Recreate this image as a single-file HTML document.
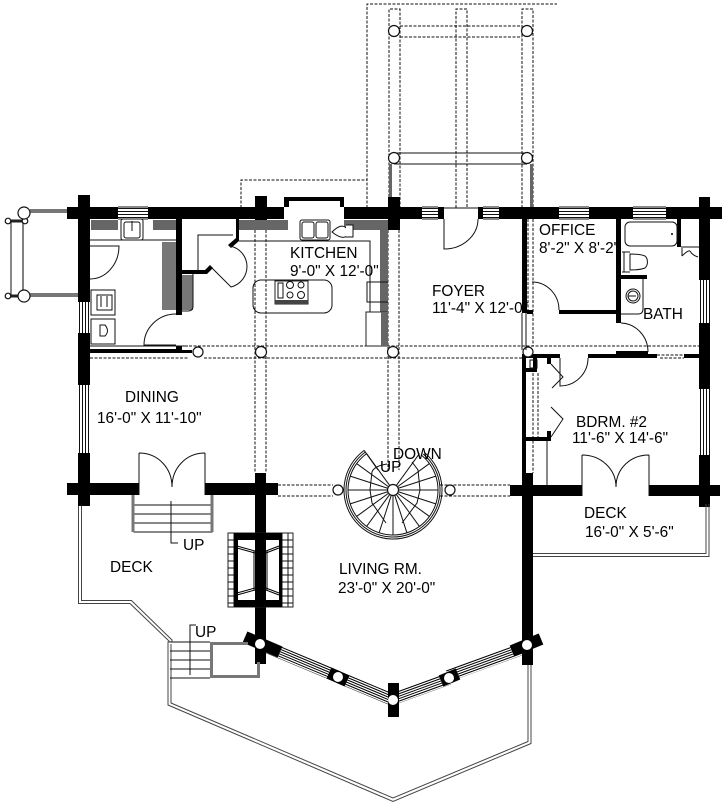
<!DOCTYPE html>
<html><head><meta charset="utf-8"><style>
html,body{margin:0;padding:0;background:#fff}
svg{display:block}
text{font-family:"Liberation Sans",sans-serif;font-size:15.4px;fill:#000}
.b{fill:#000;stroke:none}
.bl{fill:none;stroke:#000}
.t{fill:none;stroke:#111;stroke-width:1}
.d{fill:none;stroke:#111;stroke-width:1;stroke-dasharray:3 1.5}
.g{fill:none;stroke:#666;stroke-width:1}
.gf{fill:#666;stroke:none}
.h{fill:none;stroke:#111;stroke-dasharray:1 2}
.a{fill:none;stroke:#000;stroke-dasharray:1 1.3}
.c{fill:#fff;stroke:#111;stroke-width:1.2}
</style></head><body>
<svg width="725" height="806" viewBox="0 0 725 806" xmlns="http://www.w3.org/2000/svg">
<rect width="725" height="806" fill="#fff"/>

<!-- top pergola -->
<path class="d" d="M367 208V4H557M241 208V180H367"/>
<path class="d" d="M389 197V9H400V208M456 208V9H467V208M522 208V9H533V208"/>
<path class="d" d="M400 26H522M400 37H522"/>
<path class="t" d="M394 153H527M394 164H527" stroke="#555"/>
<circle class="c" cx="394" cy="31" r="5.5"/><circle class="c" cx="527" cy="31" r="5.5"/>
<circle class="c" cx="394" cy="158" r="5.5"/><circle class="c" cx="527" cy="158" r="5.5"/>
<rect class="gf" x="389" y="164" width="3" height="33"/><rect class="gf" x="530" y="164" width="3" height="44"/>

<!-- west balcony -->
<path d="M30 211H68M30 295H78" fill="none" stroke="#777" stroke-width="4"/>
<path class="t" d="M11 221V296H24M24 221H11" stroke="#666"/><path fill="none" stroke="#555" stroke-width="1.5" d="M23 221V296"/>
<path fill="none" stroke="#222" stroke-width="3" d="M10 221H24M10 296H20"/>
<circle class="c" cx="8" cy="221" r="2.8"/><circle class="c" cx="25" cy="221" r="2.8"/><circle class="c" cx="8" cy="296" r="2.8"/>
<circle class="c" cx="24" cy="213" r="6"/><circle class="c" cx="24" cy="296" r="6"/>

<!-- beams -->
<path class="d" d="M255 230V473M266 230V473M388 230V470M399 230V470M528 219V310M533 219V346"/>
<path class="d" d="M90 346H699M90 358H188M204 358H522M660 358H684"/>
<path class="d" d="M278 485H333M278 496H333M440 485H510M440 496H510"/>
<path class="d" d="M533 373V473M538 373V437"/>

<!-- main walls -->
<g class="b">
<rect x="67" y="207" width="51" height="12"/>
<rect x="148" y="207" width="136" height="12"/>
<rect x="344" y="207" width="78" height="12"/>
<rect x="438" y="207" width="6" height="12"/>
<rect x="478" y="207" width="5" height="12"/>
<rect x="499" y="207" width="60" height="12"/>
<rect x="589" y="207" width="44" height="12"/>
<rect x="666" y="207" width="56" height="12"/>
<rect x="78" y="195" width="12" height="107"/>
<rect x="78" y="333" width="12" height="52"/>
<rect x="78" y="453" width="12" height="53"/>
<rect x="255" y="196" width="12" height="34"/>
<rect x="388" y="197" width="12" height="33"/>
<rect x="699" y="197" width="11" height="83"/>
<rect x="699" y="323" width="11" height="66"/>
<rect x="699" y="455" width="11" height="52"/>
<rect x="67" y="483" width="72" height="12"/>
<rect x="205" y="483" width="73" height="12"/>
<rect x="510" y="485" width="72" height="11"/>
<rect x="649" y="485" width="71" height="11"/>
<rect x="255" y="473" width="11" height="60"/>
<rect x="255" y="607" width="11" height="57"/>
<rect x="522" y="473" width="11" height="192"/>
<!-- alcove -->
<path d="M284 207V197H344V207H340V201H289V207Z"/>
<!-- interior -->
<rect x="176" y="219" width="6" height="96"/>
<rect x="182" y="270" width="23" height="4"/>
<path d="M205 270L210 265L213 268L207 274H205Z"/>
<path d="M236 219H239V241L231 248L228 245L236 238Z"/>
<rect x="90" y="349" width="90" height="4"/>
<rect x="176" y="346" width="6" height="4"/>
<rect x="180" y="350" width="12" height="3"/>
<rect x="522" y="219" width="5" height="94"/>
<rect x="527" y="310" width="6" height="4"/>
<rect x="559" y="310" width="62" height="4"/>
<rect x="616" y="219" width="5" height="104"/>
<rect x="621" y="275" width="26" height="4"/>
<rect x="677" y="219" width="4" height="28"/>
<rect x="588" y="354" width="69" height="4"/>
<rect x="616" y="351" width="32" height="3"/>
<rect x="684" y="354" width="15" height="4"/>
<rect x="522" y="354" width="38" height="4"/>
<rect x="522" y="358" width="4" height="115"/>
<rect x="533" y="358" width="4" height="14"/>
<rect x="526" y="368" width="11" height="4"/>
<rect x="547" y="358" width="4" height="6"/>
<rect x="547" y="431" width="4" height="10"/>
<rect x="526" y="437" width="25" height="4"/>
<rect x="388" y="683" width="11" height="34"/>
</g>
<!-- windows -->
<g class="h">
<path d="M133 208V219" stroke-width="30"/>
<path d="M430 208V219" stroke-width="16"/>
<path d="M491 208V219" stroke-width="16"/>
<path d="M574 208V219" stroke-width="30"/>
<path d="M649.5 208V219" stroke-width="33"/>
<path d="M79 317.5H90" stroke-width="31"/>
<path d="M79 419H90" stroke-width="68"/>
<path d="M700 301.5H710" stroke-width="43"/>
<path d="M700 422H710" stroke-width="66"/>
</g>
<path class="t" d="M118 207H148M118 219H148M422 207H438M422 219H438M483 207H499M483 219H499M559 207H589M559 219H589M633 207H666M633 219H666M444 208H478"/>

<!-- angled front -->
<g class="a">
<path d="M301.3 655L296.7 666" stroke-width="85"/>
<path d="M367.8 683L363.2 694" stroke-width="60"/>
<path d="M419 683.5L423 694.5" stroke-width="60"/>
<path d="M486 656L490 667" stroke-width="85"/>
</g>
<g fill="none" stroke="#000" stroke-width="12">
<path d="M245 637L280 652"/><path d="M329 673L347 681"/><path d="M441 681L458 674"/><path d="M512 651L541 639"/>
</g>
<rect x="388" y="683" width="11" height="34" fill="#000"/>
<circle cx="260" cy="644" r="5" fill="#fff"/><circle cx="338" cy="677" r="5" fill="#fff"/><circle cx="393" cy="700" r="5" fill="#fff"/><circle cx="449" cy="678" r="5" fill="#fff"/><circle cx="527" cy="645" r="5" fill="#fff"/>

<!-- deck outlines -->
<g fill="none" stroke="#444" stroke-width="1">
<path d="M78.5 506V603.5H130L170 642H168V705L393 801.5L531 743.5V665"/>
<path d="M81.5 506V600.5H131.5L172 640V642M171 644V703L393 798L528 741.5V665"/>
<path d="M533 556.5H709V504M533 553.5H706V504"/>
</g>
<!-- stairs lower deck -->
<path class="t" d="M170 642H210M170 651H210M170 660H210M170 669H210M170 678H210"/>
<path class="t" d="M190 675V625H196"/>
<path d="M211.5 678V643.5H248M211.5 676.5H258.5V662" fill="none" stroke="#777" stroke-width="3"/>
<!-- main stairs -->
<path class="t" d="M134 495V532H212V495M134 505H212M134 514H212M134 523H212"/>
<path d="M133 495V532M212 495V532" stroke="#777" stroke-width="3" fill="none"/>
<path class="t" d="M171 501V543H178"/>

<!-- doors -->
<g class="t">
<path d="M139 453V495M139 453C158 453 172 468 172 487M205 453V495M205 453C186 453 172 468 172 487"/>
<path d="M582 455V496M582 455C601 455 616 469 616 487M649 455V496M649 455C630 455 616 469 616 487"/>
<path d="M444 219V249A34 30 0 0 0 478 219"/>
<path d="M90 246H119A29 33 0 0 1 90 279"/>
<path d="M176 314A32 31 0 0 0 144 345H176"/>
<path d="M210 266L231 287A21 21 0 0 0 230 246"/>
<path d="M532 282A27 28 0 0 1 559 310"/>
<path d="M621 323A28 29 0 0 1 648 352"/>
<path d="M588 358A28 28 0 0 1 560 386V358"/>
<path d="M551 364L563 377L552 388M551 407L563 419L551 437M547 441V485"/>
</g>

<!-- kitchen -->
<rect class="gf" x="91" y="220" width="27" height="10"/>
<rect class="gf" x="153" y="220" width="23" height="10"/>
<rect class="gf" x="239" y="220" width="49" height="10"/>
<rect class="gf" x="344" y="220" width="44" height="10"/>
<rect class="gf" x="380" y="222" width="8" height="124"/>
<rect x="162" y="242" width="14" height="68" fill="#777"/>
<rect x="182" y="275" width="11" height="35" fill="#777"/>
<path class="t" d="M193 274V306Q193 311 188 311H176"/>
<path class="t" d="M198 271V235H233M239 241H370V346"/>
<path class="t" d="M90 240H176"/>
<rect x="121" y="219" width="22" height="21" rx="2" fill="#fff" stroke="#111"/><rect class="t" x="124" y="222" width="16" height="16" rx="2"/><path class="t" d="M132 221V231"/>
<rect x="300" y="220" width="30" height="20" rx="2" fill="#fff" stroke="#111"/><rect class="t" x="302" y="222" width="12" height="16" rx="2"/><rect class="t" x="316" y="222" width="12" height="16" rx="2"/>
<path d="M332 232Q342 222 347 229V236Q342 240 332 232Z" fill="#fff" stroke="#111"/><path fill="#fff" stroke="#111" d="M346 225H353V237H346"/>
<rect class="t" x="253" y="280" width="79" height="33" rx="8"/>
<rect x="275" y="281" width="33" height="23" fill="#fff" stroke="#222"/><rect x="275" y="300" width="33" height="4" fill="#444"/>
<rect class="t" x="278" y="283" width="5" height="15"/>
<circle class="t" cx="290" cy="285" r="3.5"/><circle class="t" cx="301" cy="285" r="3"/><circle class="t" cx="290" cy="295" r="3"/><circle class="t" cx="301" cy="295" r="3.5"/>
<path class="t" d="M388 282H367V302H388"/>
<rect x="366" y="312" width="21" height="34" fill="#fff" stroke="#222"/><rect x="381" y="312" width="7" height="34" fill="#666"/>
<rect class="t" x="91" y="290" width="24" height="25"/><rect class="t" x="97" y="295" width="15" height="15"/><path class="t" d="M101 296V307M107 296V307"/>
<rect class="t" x="91" y="319" width="24" height="25"/><path class="t" d="M100 325H105Q110 331 105 336H100Z"/>
<path class="t" d="M90 346H188"/>
<circle class="c" cx="198" cy="352" r="5"/><circle class="c" cx="261" cy="352" r="5.5"/><circle class="c" cx="393" cy="352" r="5.5"/><circle class="c" cx="528" cy="352" r="5"/>

<!-- bath -->
<rect class="t" x="625" y="222" width="52" height="24" rx="5"/><circle cx="672" cy="234" r="1" fill="#000"/>
<path class="t" d="M622 252H630M622 272H630M624 252V272M630 254Q640 254 645 256A5 7 0 0 1 645 268Q640 270 630 270Z"/>
<path class="t" d="M681 247H699M682 256V248M682 256Q688 250 690 251M690 251Q692 255 698 257"/>
<path class="t" d="M643 279V309Q643 314 638 314H621"/>
<circle class="t" cx="633" cy="296" r="7"/><circle class="t" cx="633" cy="296" r="5"/><path class="t" d="M628 296H636"/>
<path class="t" d="M522 313V350M526 313V350"/>
<path d="M657 355H684" class="d"/>
<rect class="t" x="530" y="360" width="7" height="8"/>

<!-- stair -->
<g class="t">
<path d="M364.2 450.4A49 49 0 1 0 424.5 452.5"/>
<path d="M365.4 452A47 47 0 1 0 423.2 454"/>
<path d="M366.6 453.6A45 45 0 1 0 421.9 455.5"/>
<path d="M364.2 450.4L378 470"/>
<g>
<line x1="399" y1="490" x2="438" y2="490" transform="rotate(-54 393 490)"/>
<line x1="399" y1="490" x2="438" y2="490" transform="rotate(-36 393 490)"/>
<line x1="399" y1="490" x2="438" y2="490" transform="rotate(-18 393 490)"/>
<line x1="399" y1="490" x2="438" y2="490"/>
<line x1="399" y1="490" x2="438" y2="490" transform="rotate(18 393 490)"/>
<line x1="399" y1="490" x2="438" y2="490" transform="rotate(36 393 490)"/>
<line x1="399" y1="490" x2="438" y2="490" transform="rotate(54 393 490)"/>
<line x1="399" y1="490" x2="438" y2="490" transform="rotate(72 393 490)"/>
<line x1="399" y1="490" x2="438" y2="490" transform="rotate(90 393 490)"/>
<line x1="399" y1="490" x2="438" y2="490" transform="rotate(108 393 490)"/>
<line x1="399" y1="490" x2="438" y2="490" transform="rotate(126 393 490)"/>
<line x1="399" y1="490" x2="438" y2="490" transform="rotate(144 393 490)"/>
<line x1="399" y1="490" x2="438" y2="490" transform="rotate(162 393 490)"/>
<line x1="399" y1="490" x2="438" y2="490" transform="rotate(180 393 490)"/>
<line x1="399" y1="490" x2="438" y2="490" transform="rotate(198 393 490)"/>
<line x1="399" y1="490" x2="438" y2="490" transform="rotate(216 393 490)"/>
<line x1="399" y1="490" x2="438" y2="490" transform="rotate(234 393 490)"/>
</g>
<path d="M387 464Q374 466 372 472L370 490L372 503L386 523M412 462L418 470L420 490L417 503L402 523"/>
</g>
<circle class="c" cx="393" cy="490" r="5.5"/>
<circle class="c" cx="338" cy="490" r="5"/><circle class="c" cx="450" cy="490" r="5"/>

<!-- fireplace -->
<rect x="228" y="533" width="65" height="74" fill="#fff" stroke="#222"/>
<path class="t" d="M234 533V607M282 533V607M288 533V607M228 540H234M228 547H234M228 554H234M228 561H234M228 568H234M228 575H234M228 582H234M228 589H234M228 596H234M228 603H234M282 540H293M282 547H293M282 554H293M282 561H293M282 568H293M282 575H293M282 582H293M282 589H293M282 596H293M282 603H293"/>
<path class="b" d="M234 533H282V607H234ZM238 540V600H255V540ZM266 540V600H279V540Z" fill-rule="evenodd"/>
<g fill="none" stroke="#000" stroke-width="1">
<path d="M237 546L255 551M237 548L255 553M279 546L266 551M279 548L266 553M237 595L255 590M237 593L255 588M279 595L266 590M279 593L266 588"/>
<path d="M254 551V590M267 551V590"/>
</g>

<!-- labels -->
<text x="290" y="258">KITCHEN</text>
<text x="290" y="276">9'-0" X 12'-0"</text>
<text x="432" y="296">FOYER</text>
<text x="432" y="313">11'-4" X 12'-0"</text>
<text x="539" y="235">OFFICE</text>
<text x="539" y="253">8'-2" X 8'-2"</text>
<text x="643" y="319">BATH</text>
<text x="125" y="402">DINING</text>
<text x="97" y="423">16'-0" X 11'-10"</text>
<text x="576" y="427">BDRM. #2</text>
<text x="572" y="443">11'-6" X 14'-6"</text>
<text x="584" y="518">DECK</text>
<text x="585" y="537">16'-0" X 5'-6"</text>
<text x="110" y="572">DECK</text>
<text x="183" y="550">UP</text>
<text x="195" y="637">UP</text>
<text x="339" y="574">LIVING RM.</text>
<text x="338" y="593">23'-0" X 20'-0"</text>
<text x="393" y="459">DOWN</text>
<text x="380" y="472">UP</text>
</svg>
</body></html>
